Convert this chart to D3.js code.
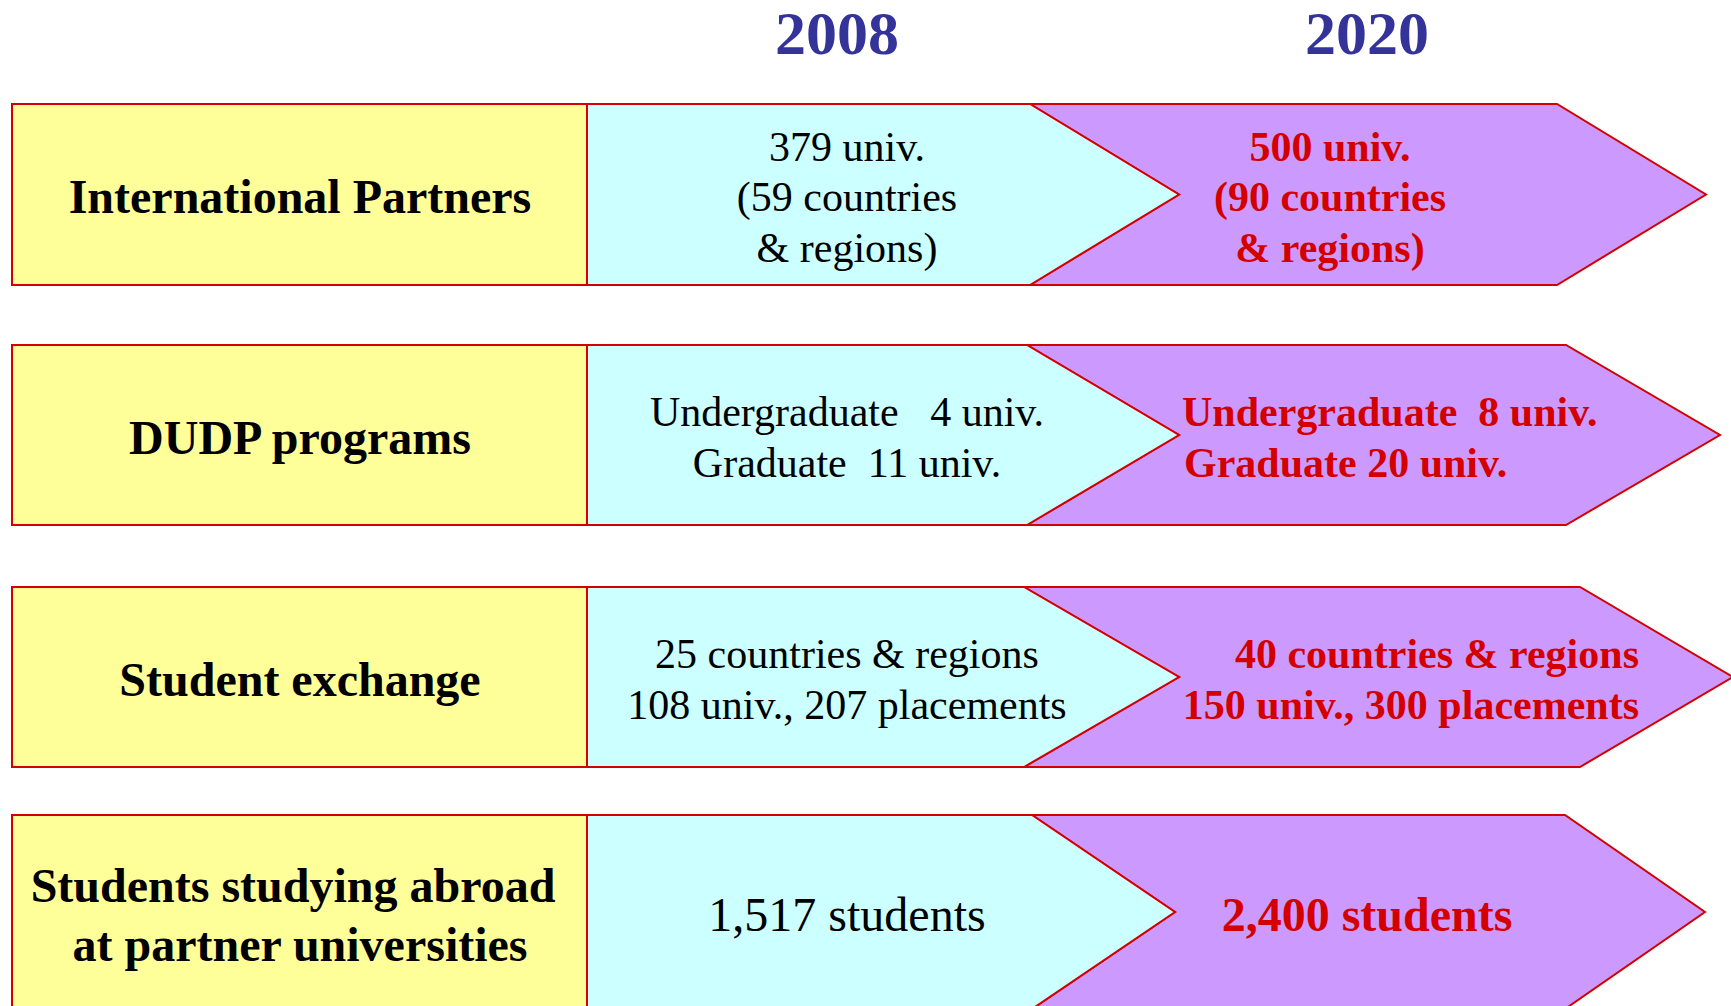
<!DOCTYPE html>
<html>
<head>
<meta charset="utf-8">
<script src="https://cdn.jsdelivr.net/npm/d3@7"></script>
<style>
  html, body { margin: 0; padding: 0; background: #fff; overflow: hidden; }
  text { font-family: "Liberation Serif", "Times New Roman", serif; }
</style>
</head>
<body>
<div id="chart"></div>
<script>
// chart content
const years = ["2008", "2020"];
const categories = ["International Partners", "DUDP programs", "Student exchange", "Students studying abroad|at partner universities"];
const values2008 = [
  ["379 univ.", "(59 countries", "& regions)"],
  ["Undergraduate   4 univ.", "Graduate  11 univ."],
  ["25 countries & regions", "108 univ., 207 placements"],
  ["1,517 students"]
];
const values2020 = [
  ["500 univ.", "(90 countries", "& regions)"],
  ["Undergraduate  8 univ.", "Graduate 20 univ."],
  ["40 countries & regions", "150 univ., 300 placements"],
  ["2,400 students"]
];

const width = 1731, height = 1006;

// layout of each row (pixel geometry)
let rowTop = d3.scaleOrdinal().domain(categories).range([104, 345, 587, 815]);
let rowH = d3.scaleOrdinal().domain(categories).range([181, 180, 180, 194]);
let cyanRight = d3.scaleOrdinal().domain(categories).range([1030, 1027, 1024, 1032]);
let cyanTip = d3.scaleOrdinal().domain(categories).range([1179, 1179, 1179, 1175]);
let purpRight = d3.scaleOrdinal().domain(categories).range([1557, 1566, 1580, 1565]);
let purpTip = d3.scaleOrdinal().domain(categories).range([1706, 1720, 1733, 1705]);
// where the 2020 text sits, and how it is anchored
let redX = d3.scaleOrdinal().domain(categories).range([1330, 1182, 1639, 1367]);
let redAnchor = d3.scaleOrdinal().domain(categories).range(["middle", "start", "end", "middle"]);

const boxLeft = 12, boxRight = 587;
const col2008 = 847;
const lineGap = 50.5;

const yellow = "#FFFF99", cyan = "#CCFFFF", purple = "#CC99FF", red = "#D40000", blue = "#333399";

let svg = d3.select("#chart").append("svg")
    .attr("width", width)
    .attr("height", height);

// year headers
let yearX = d3.scaleOrdinal().domain(years).range([837, 1367]);
svg.selectAll(".year")
  .data(years)
  .enter().append("text")
  .attr("class", "year")
  .attr("x", d => yearX(d))
  .attr("y", 32)
  .attr("dy", "0.35em")
  .style("text-anchor", "middle")
  .style("font-size", "62px")
  .style("font-weight", "bold")
  .style("fill", blue)
  .text(d => d);

let rows = svg.selectAll(".row")
  .data(categories)
  .enter().append("g")
  .attr("class", "row");

// purple chevron (2020), drawn first so the cyan arrow sits on top of its notch
rows.append("path")
  .attr("d", function(d) {
    let t = rowTop(d), b = t + rowH(d), m = t + rowH(d) / 2;
    return "M" + cyanRight(d) + "," + t + "L" + purpRight(d) + "," + t + "L" + purpTip(d) + "," + m +
      "L" + purpRight(d) + "," + b + "L" + cyanRight(d) + "," + b + "L" + cyanTip(d) + "," + m + "Z";
  })
  .style("fill", purple)
  .style("stroke", red)
  .style("stroke-width", 2)
  .style("stroke-linejoin", "miter");

// cyan arrow (2008)
rows.append("path")
  .attr("d", function(d) {
    let t = rowTop(d), b = t + rowH(d), m = t + rowH(d) / 2;
    return "M" + boxRight + "," + t + "L" + cyanRight(d) + "," + t + "L" + cyanTip(d) + "," + m +
      "L" + cyanRight(d) + "," + b + "L" + boxRight + "," + b + "Z";
  })
  .style("fill", cyan)
  .style("stroke", red)
  .style("stroke-width", 2);

// yellow category box
rows.append("rect")
  .attr("x", boxLeft)
  .attr("y", d => rowTop(d))
  .attr("width", boxRight - boxLeft)
  .attr("height", d => rowH(d))
  .style("fill", yellow)
  .style("stroke", red)
  .style("stroke-width", 2);

// category labels
rows.each(function(d) {
  let lines = d.split("|");
  let g = d3.select(this);
  let mid = d === categories[3] ? 914.5 : rowTop(d) + rowH(d) / 2 + 2;
  let gap = 58.5;
  lines.forEach(function(l, i) {
    g.append("text")
      .attr("x", d === categories[3] ? (i === 0 ? 293 : 300) : 300)
      .attr("y", mid + (i - (lines.length - 1) / 2) * gap)
      .attr("dy", "0.35em")
      .style("text-anchor", "middle")
      .style("font-size", "48px")
      .style("font-weight", "bold")
      .style("fill", "#000")
      .text(l);
  });
});

// 2008 values
rows.each(function(d, i) {
  let lines = values2008[i];
  let g = d3.select(this);
  let mid = i === 3 ? 914 : rowTop(d) + rowH(d) / 2 + 2;
  let fs = i === 3 ? 48 : 42;
  lines.forEach(function(l, j) {
    g.append("text")
      .attr("x", col2008)
      .attr("y", mid + (j - (lines.length - 1) / 2) * lineGap)
      .attr("dy", "0.35em")
      .style("text-anchor", "middle")
      .style("white-space", "pre")
      .style("font-size", fs + "px")
      .style("fill", "#000")
      .text(l);
  });
});

// 2020 values
rows.each(function(d, i) {
  let lines = values2020[i];
  let g = d3.select(this);
  let mid = i === 3 ? 914 : rowTop(d) + rowH(d) / 2 + 2;
  let fs = i === 3 ? 48 : 42;
  lines.forEach(function(l, j) {
    let x = redX(d) + (i === 1 && j === 1 ? 2 : 0);
    g.append("text")
      .attr("x", x)
      .attr("y", mid + (j - (lines.length - 1) / 2) * lineGap)
      .attr("dy", "0.35em")
      .style("text-anchor", redAnchor(d))
      .style("white-space", "pre")
      .style("font-size", fs + "px")
      .style("font-weight", "bold")
      .style("fill", red)
      .text(l);
  });
});
</script>
</body>
</html>
